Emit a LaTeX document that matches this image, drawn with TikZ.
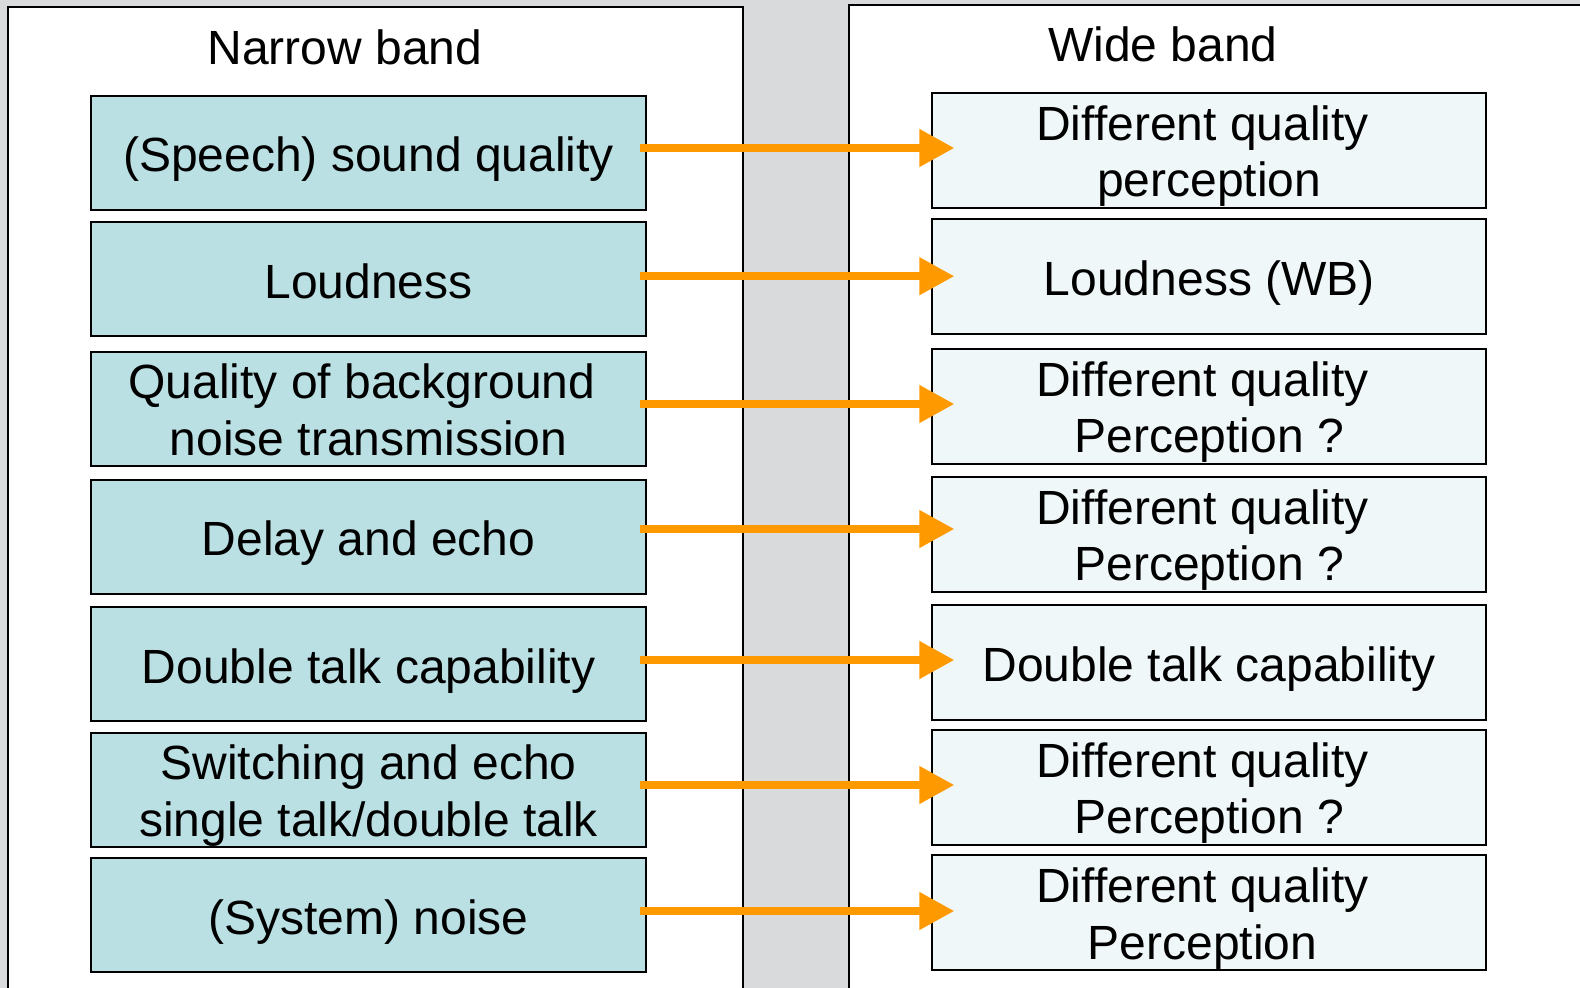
\documentclass[tikz,border=0pt]{standalone}
\usepackage{fontspec}
\setmainfont{Liberation Sans}
\usetikzlibrary{arrows.meta}
\definecolor{bggray}{RGB}{217,218,220}
\definecolor{nbfill}{RGB}{186,224,227}
\definecolor{wbfill}{RGB}{239,247,249}
\definecolor{arrorange}{RGB}{255,153,0}
\newcommand{\tsp}{\hphantom{\ }}
\newcommand{\topstrut}{\rule{0pt}{47pt}}
\tikzset{
  boxbase/.style={draw=black, line width=2pt, inner sep=0pt, align=center, font=\fontsize{48}{56.5}\selectfont,
    execute at begin node={\rule{0pt}{48.5pt}}, execute at end node={\rule[-10.5pt]{0pt}{10.5pt}}},
  nbbox/.style={boxbase, fill=nbfill, minimum width=555pt, minimum height=114pt},
  wbbox/.style={boxbase, fill=wbfill, minimum width=554pt, minimum height=115pt},
  title/.style={inner sep=0pt, font=\fontsize{48}{56.5}\selectfont},
  arr/.style={draw=arrorange, line width=7.7pt, -{Triangle[length=35pt,width=36pt]}}
}
\begin{document}
\begin{tikzpicture}[x=1pt,y=-1pt]
\useasboundingbox (0,0) rectangle (1580,988);
\clip (0,0) rectangle (1580,988);
\fill[bggray] (0,0) rectangle (1580,988);
\draw[fill=white, line width=2pt] (8,1010) -- (8,7) -- (743,7) -- (743,1010);
\draw[fill=white, line width=2pt] (1600,5) -- (849,5) -- (849,1010) -- (1600,1010);
\node[title] (tn) at (345,47) {Narrow band};
\node[title] (tw) at (1163,44) {Wide band};
\node[nbbox] (l1) at (368.5,152.6) {(Speech) sound quality};
\node[nbbox] (l2) at (368.5,279.2) {Loudness};
\node[nbbox] (l3) at (368.5,408.6) {\topstrut Quality of background\tsp\\noise transmission};
\node[nbbox] (l4) at (368.5,536.6) {Delay and echo};
\node[nbbox] (l5) at (368.5,664) {Double talk capability};
\node[nbbox] (l6) at (368.5,789.5) {\topstrut Switching and echo\\single talk/double talk};
\node[nbbox] (l7) at (368.5,915) {(System) noise};
\node[wbbox] (r1) at (1209.3,150.2) {\topstrut Different quality\tsp\\perception};
\node[wbbox] (r2) at (1209.3,276.6) {Loudness (WB)};
\node[wbbox] (r3) at (1209.3,406.1) {\topstrut Different quality\tsp\\Perception ?};
\node[wbbox] (r4) at (1209.3,534) {\topstrut Different quality\tsp\\Perception ?};
\node[wbbox] (r5) at (1209.3,662) {Double talk capability};
\node[wbbox] (r6) at (1209.3,787) {\topstrut Different quality\tsp\\Perception ?};
\node[wbbox] (r7) at (1209.3,912.5) {\topstrut Different quality\tsp\\Perception\tsp};
\foreach \i/\dy in {1/4.6,2/3,3/4.6,4/7.6,5/4,6/4.5,7/4}{
  \draw[arr] ([xshift=-7pt,yshift=\dy pt]l\i.east) coordinate (s\i) -- (s\i -| r\i.west) -- ++(23,0);
}
\end{tikzpicture}
\end{document}
